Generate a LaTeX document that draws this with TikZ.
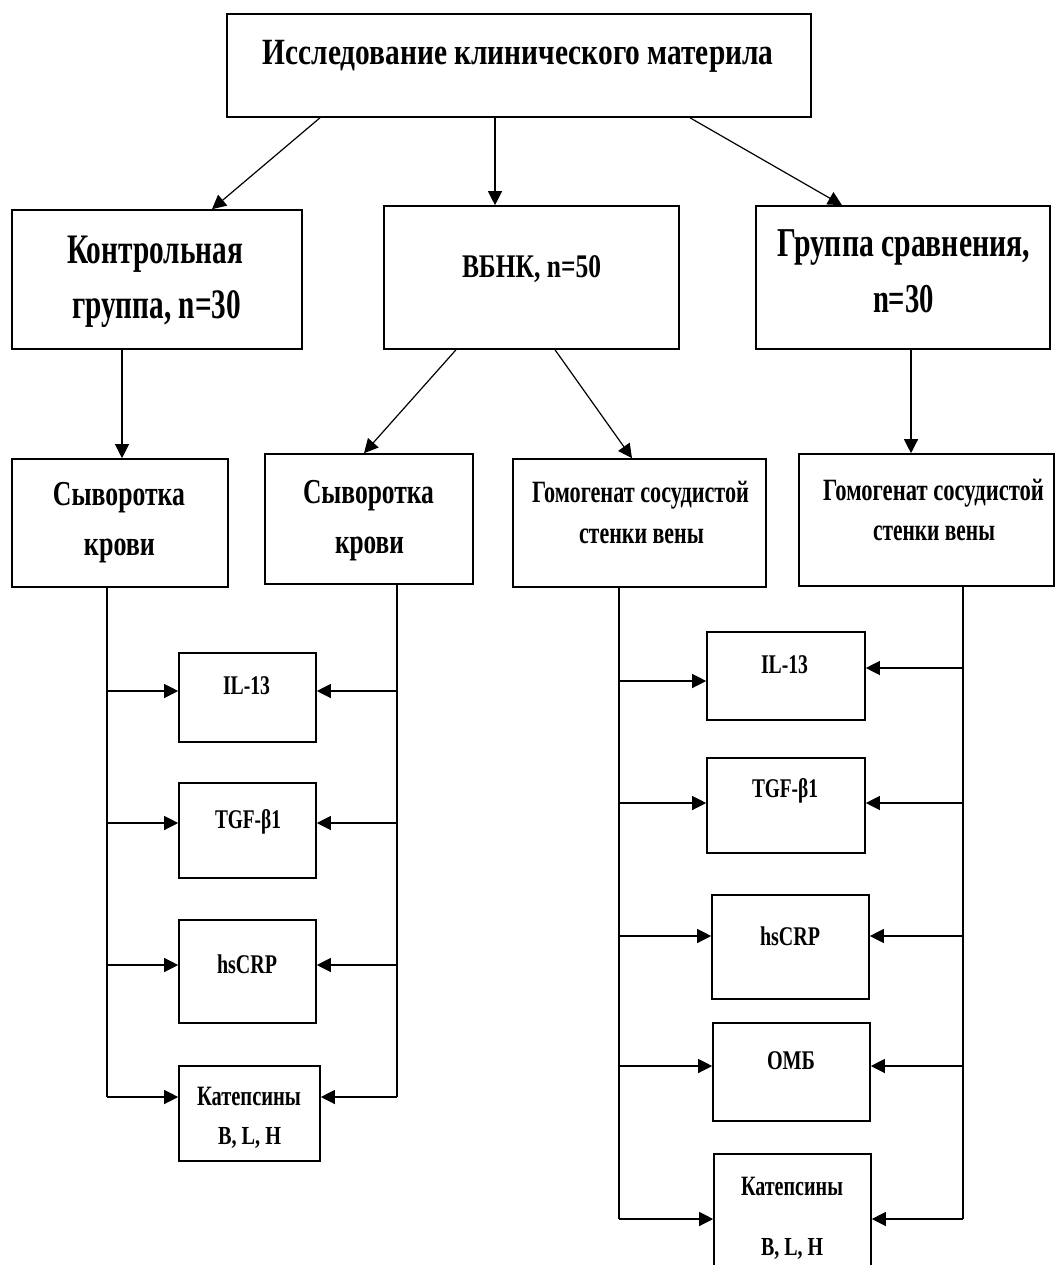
\documentclass[tikz,border=0pt]{standalone}
\usepackage{fontspec}
\setmainfont{Liberation Serif}
\usepackage{graphicx}
\usetikzlibrary{arrows.meta}
\newcommand\mytxt[3]{{\fontsize{#2}{#2}\selectfont\bfseries\resizebox{#1pt}{\height}{#3}}}
\tikzset{
  box/.style={draw, line width=1.6pt, inner sep=0pt},
  txt/.style={anchor=base, inner sep=0pt},
  arr/.style={line width=1.2pt, -{Triangle[length=14pt,width=14pt]}},
  ln/.style={line width=1.2pt},
}
\newcommand\bx[5]{\node[box, minimum width=#4pt-#2pt, minimum height=#5pt-#3pt] (#1) at ({(#2+#4)/2},{(#3+#5)/2}) {};}
\begin{document}
\begin{tikzpicture}[x=1pt,y=-1pt]
\useasboundingbox (0,0) rectangle (1056,1265);
\fill[white] (0,0) rectangle (1056,1265);
\clip (0,0) rectangle (1056,1265);
% boxes
\bx{top}{227}{14}{811}{117}
\bx{ctrl}{12}{210}{302}{349}
\bx{vbnk}{384}{206}{679}{349}
\bx{cmp}{756}{206}{1050}{349}
\bx{ser1}{12}{459}{228}{587}
\bx{ser2}{265}{454}{473}{584}
\bx{hom1}{513}{459}{766}{587}
\bx{hom2}{799}{454}{1054}{586}
\bx{Lil}{179}{653}{316}{742}
\bx{Ltgf}{179}{783}{316}{878}
\bx{Lcrp}{179}{920}{316}{1023}
\bx{Lcat}{179}{1066}{320}{1161}
\bx{Ril}{707}{632}{865}{720}
\bx{Rtgf}{707}{758}{865}{853}
\bx{Rcrp}{712}{895}{869}{999}
\bx{Romb}{713}{1023}{870}{1121}
\bx{Rcat}{714}{1154}{871}{1300}
% texts
\node[txt] (top-t) at (518,65) {\mytxt{511}{37}{Исследование клинического материла}};
\node[txt] (ctrl-t1) at (155,264) {\mytxt{176}{42}{Контрольная}};
\node[txt] (ctrl-t2) at (156.5,318) {\mytxt{169}{42}{группа, n=30}};
\node[txt] (vbnk-t) at (531.5,277) {\mytxt{139}{33}{ВБНК, n=50}};
\node[txt] (cmp-t1) at (903.5,257) {\mytxt{253}{41}{Группа сравнения,}};
\node[txt] (cmp-t2) at (903.5,312) {\mytxt{61}{41}{n=30}};
\node[txt] (ser1-t1) at (119,505) {\mytxt{132}{35}{Сыворотка}};
\node[txt] (ser1-t2) at (119.5,555) {\mytxt{71}{35}{крови}};
\node[txt] (ser2-t1) at (368.5,503) {\mytxt{131}{35}{Сыворотка}};
\node[txt] (ser2-t2) at (369.5,553) {\mytxt{69}{35}{крови}};
\node[txt] (hom1-t1) at (640.5,502) {\mytxt{217}{31}{Гомогенат сосудистой}};
\node[txt] (hom1-t2) at (641.5,543) {\mytxt{125}{31}{стенки вены}};
\node[txt] (hom2-t1) at (933.5,500) {\mytxt{221}{31}{Гомогенат сосудистой}};
\node[txt] (hom2-t2) at (934,540) {\mytxt{122}{31}{стенки вены}};
\node[txt] (Lil-t) at (246.5,694) {\mytxt{47}{27}{IL-13}};
\node[txt] (Ltgf-t) at (248,828) {\mytxt{66}{27}{TGF-β1}};
\node[txt] (Lcrp-t) at (247,973) {\mytxt{60}{27}{hsCRP}};
\node[txt] (Lcat-t1) at (249,1105) {\mytxt{104}{28}{Катепсины}};
\node[txt] (Lcat-t2) at (249.5,1144) {\mytxt{63}{26}{B, L, H}};
\node[txt] (Ril-t) at (784.5,673) {\mytxt{47}{27}{IL-13}};
\node[txt] (Rtgf-t) at (785,797) {\mytxt{66}{27}{TGF-β1}};
\node[txt] (Rcrp-t) at (790,945) {\mytxt{60}{27}{hsCRP}};
\node[txt] (Romb-t) at (791,1069) {\mytxt{48}{27}{ОМБ}};
\node[txt] (Rcat-t1) at (792,1195) {\mytxt{102}{28}{Катепсины}};
\node[txt] (Rcat-t2) at (792,1255) {\mytxt{62}{26}{B, L, H}};
% top-level arrows
\coordinate (s1) at (320,117); \coordinate (e1) at (212,210);
\coordinate (s2) at (495,117);
\coordinate (s3) at (690,117); \coordinate (e3) at (842,206);
\draw[arr] (top.south -| s1) -- (ctrl.north -| e1);
\draw[arr] (top.south -| s2) -- (vbnk.north -| s2);
\draw[arr] (top.south -| s3) -- (cmp.north -| e3);
% second level
\coordinate (s4) at (122,349);
\coordinate (s5) at (456,349); \coordinate (e5) at (364,454);
\coordinate (s6) at (555,349); \coordinate (e6) at (632,459);
\coordinate (s7) at (911,349);
\draw[arr] (ctrl.south -| s4) -- (ser1.north -| s4);
\draw[arr] (vbnk.south -| s5) -- (ser2.north -| e5);
\draw[arr] (vbnk.south -| s6) -- (hom1.north -| e6);
\draw[arr] (cmp.south -| s7) -- (hom2.north -| s7);
% left trunks
\coordinate (tA) at (107,1097);
\coordinate (tB) at (397,1097);
\draw[ln] (ser1.south -| tA) -- (tA);
\draw[ln] (ser2.south -| tB) -- (tB);
\foreach \n/\y in {Lil/691, Ltgf/823, Lcrp/965, Lcat/1097}{
  \draw[arr] (107,\y) -- (\n.west |- 0,\y);
  \draw[arr] (397,\y) -- (\n.east |- 0,\y);
}
% right trunks
\coordinate (tC) at (619,1219);
\coordinate (tD) at (963,1219);
\draw[ln] (hom1.south -| tC) -- (tC);
\draw[ln] (hom2.south -| tD) -- (tD);
\foreach \n/\ya/\yb in {Ril/681/668, Rtgf/803/803, Rcrp/936/936, Romb/1066/1066, Rcat/1219/1219}{
  \draw[arr] (619,\ya) -- (\n.west |- 0,\ya);
  \draw[arr] (963,\yb) -- (\n.east |- 0,\yb);
}
\end{tikzpicture}
\end{document}
